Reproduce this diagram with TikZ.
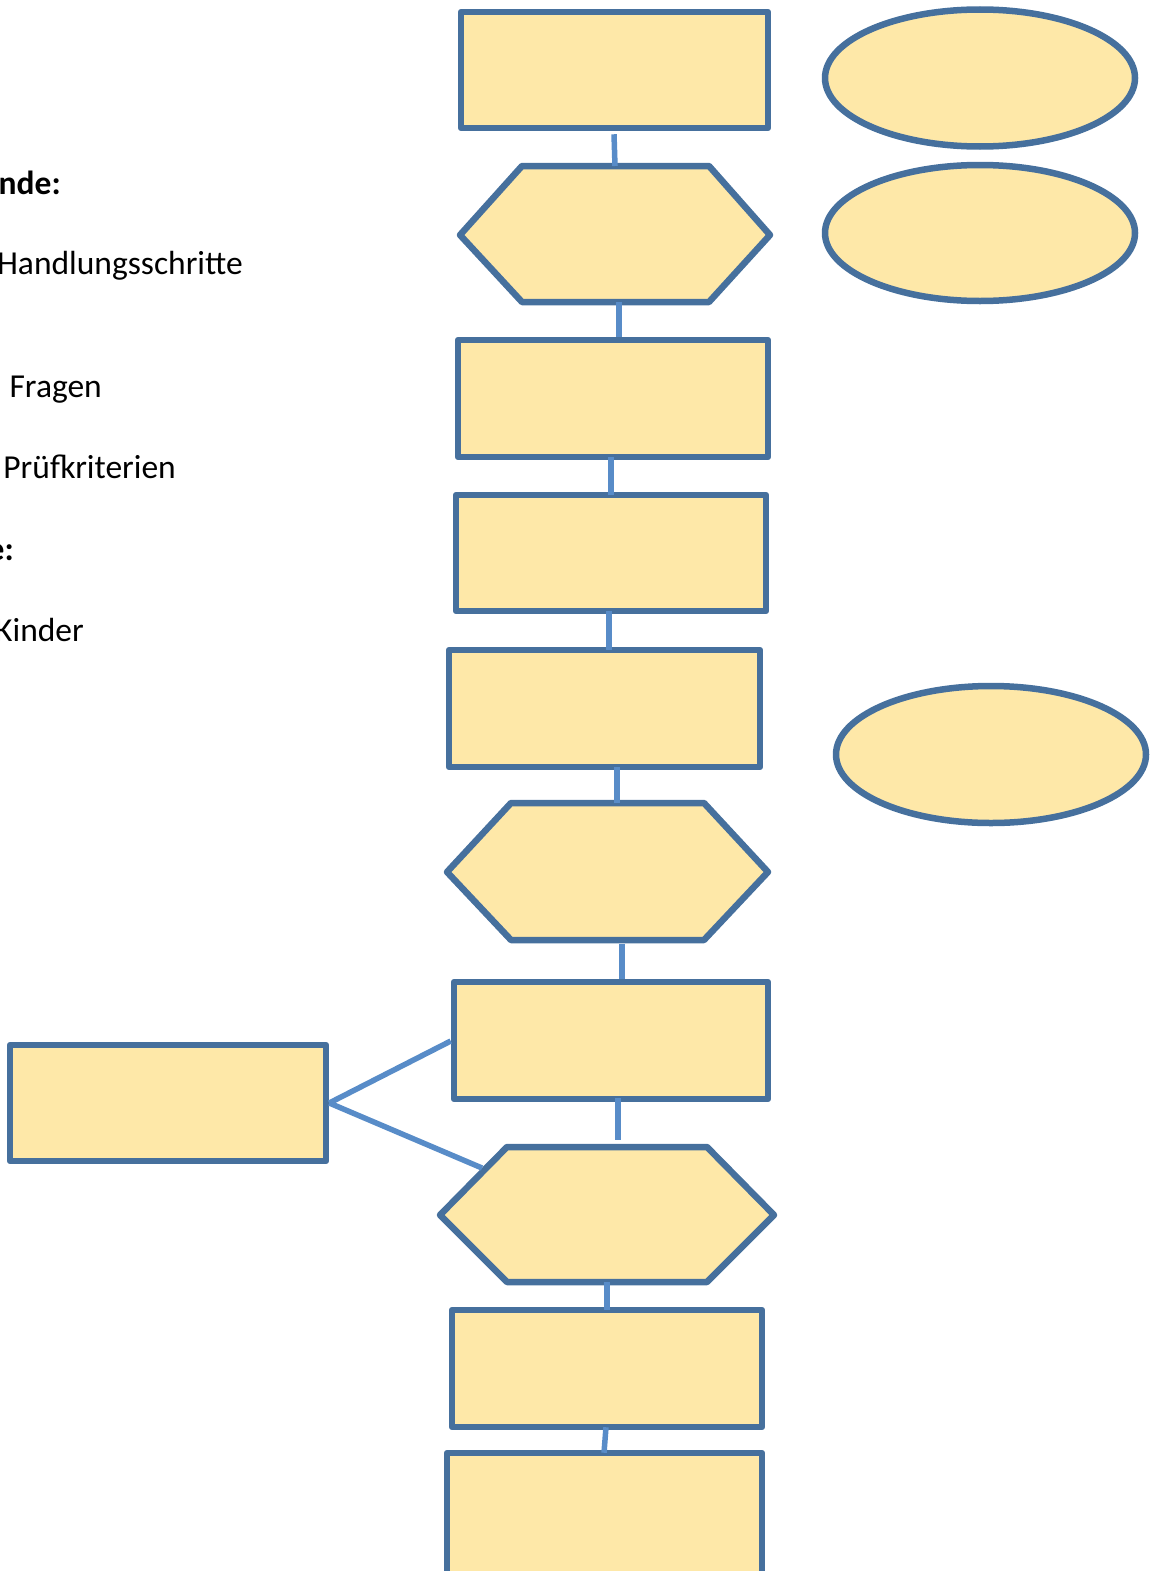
\documentclass[tikz,border=0pt]{standalone}
\usepackage{fontspec}
\setmainfont{Carlito}
\usetikzlibrary{shapes.geometric}
\definecolor{bordc}{RGB}{70,112,157}
\definecolor{linkc}{RGB}{88,140,200}
\definecolor{fillc}{RGB}{254,232,168}
\begin{document}
\begin{tikzpicture}[x=1pt,y=-1pt,
  boxshape/.style={draw=bordc,fill=fillc,line width=6.5pt,line join=round},
  linkline/.style={draw=linkc,line width=5.5pt},
  legtext/.style={anchor=base east,inner sep=0pt,font=\fontsize{33.5}{40}\selectfont}]
\useasboundingbox (0,0) rectangle (1156,1571);
% rectangles
\node[boxshape,minimum width=307pt,minimum height=116pt,inner sep=0pt] (r1) at (614.5,70) {};
\node[boxshape,minimum width=310pt,minimum height=117pt,inner sep=0pt] (r2) at (613,398.5) {};
\node[boxshape,minimum width=310pt,minimum height=116pt,inner sep=0pt] (r3) at (611,553) {};
\node[boxshape,minimum width=311pt,minimum height=117pt,inner sep=0pt] (r4) at (604.5,708.5) {};
\node[boxshape,minimum width=314pt,minimum height=117pt,inner sep=0pt] (r5) at (611,1040.5) {};
\node[boxshape,minimum width=310pt,minimum height=117pt,inner sep=0pt] (r6) at (607,1368.5) {};
\node[boxshape,minimum width=315pt,minimum height=150pt,inner sep=0pt] (r7) at (604.5,1528) {};
\node[boxshape,minimum width=316pt,minimum height=116pt,inner sep=0pt] (rl) at (168,1103) {};
% hexagons
\draw[boxshape] (460,235) -- (522,166) -- (709,166) -- (770,235) -- (709,302) -- (522,302) -- cycle;
\coordinate (h1t) at (615,166); \coordinate (h1b) at (619,302);
\draw[boxshape] (447,872) -- (511,803) -- (704,803) -- (768,872) -- (704,940) -- (511,940) -- cycle;
\coordinate (h2t) at (617,803); \coordinate (h2b) at (622,944);
\draw[boxshape] (440,1215) -- (507,1147) -- (707,1147) -- (774,1215) -- (707,1282) -- (507,1282) -- cycle;
\coordinate (h3t) at (618,1140); \coordinate (h3b) at (607,1282); \coordinate (h3l) at (482,1168);
% ellipses
\node[boxshape,ellipse,minimum width=310pt,minimum height=137pt,inner sep=0pt] (e1) at (980,78) {};
\node[boxshape,ellipse,minimum width=310pt,minimum height=136pt,inner sep=0pt] (e2) at (980,233) {};
\node[boxshape,ellipse,minimum width=310pt,minimum height=137pt,inner sep=0pt] (e3) at (991,754.5) {};
% connectors
\draw[linkline] ([xshift=-0.5pt,yshift=-3pt]r1.south) -- (h1t);
\draw[linkline] (h1b) -- ([xshift=6pt]r2.north);
\draw[linkline] ([xshift=-2pt,yshift=3pt]r2.south) -- ([yshift=-3pt]r3.north);
\draw[linkline] ([xshift=-2pt,yshift=3pt]r3.south) -- ([xshift=4.5pt,yshift=-3pt]r4.north) ;
\draw[linkline] ([xshift=12.5pt,yshift=3pt]r4.south) -- (h2t);
\draw[linkline] (h2b) -- ([xshift=11pt]r5.north);
\draw[linkline] ([xshift=7pt,yshift=4pt]r5.south) -- (h3t);
\draw[linkline] (h3b) -- ([yshift=-3pt]r6.north);
\draw[linkline] ([xshift=-1pt,yshift=3pt]r6.south) -- ([xshift=-0.5pt,yshift=-3pt]r7.north);
\draw[linkline] (rl.east) -- ([yshift=-0.5pt]r5.west);
\draw[linkline] (rl.east) -- (h3l);
% legend text
\node[legtext,font=\fontsize{33.5}{40}\selectfont\bfseries] (t1) at (61,194) {nde:};
\node[legtext] (t2) at (243,274) {Handlungsschritte};
\node[legtext] (t3) at (102,397) {: Fragen};
\node[legtext] (t4) at (176,478) {Prüfkriterien};
\node[legtext,font=\fontsize{33.5}{40}\selectfont\bfseries] (t5) at (14,560) {e:};
\node[legtext] (t6) at (84,641) {Kinder};
\end{tikzpicture}
\end{document}
